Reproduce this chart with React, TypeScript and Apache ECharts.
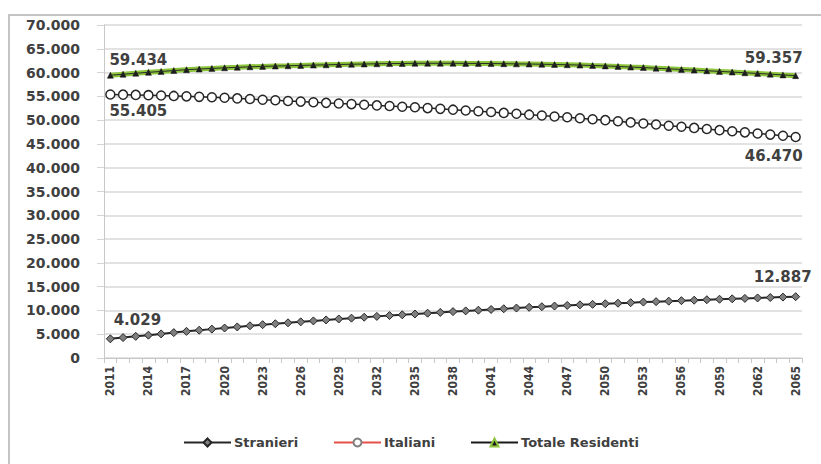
import React, { useEffect, useRef } from "react";
import * as echarts from "echarts";

const years: string[] = [];
for (let y = 2011; y <= 2065; y++) years.push(String(y));

const stranieri = [
  4029, 4290, 4550, 4800, 5070, 5340, 5600, 5840, 6070, 6300, 6530, 6770, 7000, 7200, 7400, 7600, 7800, 8000, 8200,
  8380, 8570, 8750, 8920, 9080, 9250, 9420, 9580, 9750, 9900, 10050, 10200, 10350, 10500, 10650, 10780, 10920, 11050,
  11170, 11280, 11400, 11520, 11630, 11750, 11850, 11950, 12050, 12150, 12250, 12350, 12440, 12530, 12620, 12710,
  12800, 12887,
];

const italiani = [
  55405, 55360, 55310, 55250, 55170, 55090, 55000, 54900, 54800, 54700, 54570, 54440, 54300, 54170, 54030, 53900,
  53770, 53630, 53500, 53370, 53230, 53100, 52970, 52830, 52700, 52530, 52370, 52200, 52030, 51870, 51700, 51520,
  51330, 51150, 50970, 50780, 50600, 50400, 50200, 50000, 49770, 49530, 49300, 49070, 48830, 48600, 48370, 48130,
  47900, 47670, 47430, 47200, 46960, 46710, 46470,
];

const totale = [
  59434, 59650, 59860, 60050, 60240, 60430, 60600, 60740, 60870, 61000, 61100, 61210, 61300, 61370, 61430, 61500,
  61570, 61630, 61700, 61750, 61800, 61850, 61890, 61910, 61950, 61950, 61950, 61950, 61930, 61920, 61900, 61870,
  61830, 61800, 61750, 61700, 61650, 61570, 61480, 61400, 61290, 61160, 61050, 60920, 60780, 60650, 60520, 60380,
  60250, 60110, 59960, 59820, 59670, 59510, 59357,
];

const legendNames = ["Stranieri", "Italiani", "Totale Residenti"];

const fmt = (v: number) => v.toString().replace(/\B(?=(\d{3})+(?!\d))/g, ".");

const labelText = {
  color: "#404040",
  fontWeight: "bold" as const,
  fontSize: 15,
  fontFamily: "DejaVu Sans",
};

function withEndLabels(
  arr: number[],
  first: { position: string; offset: number[] },
  last: { position: string; offset: number[] }
) {
  return arr.map((v, i) => {
    if (i === 0 || i === arr.length - 1) {
      const cfg = i === 0 ? first : last;
      return {
        value: v,
        label: {
          show: true,
          position: cfg.position,
          offset: cfg.offset,
          formatter: () => fmt(v),
          ...labelText,
        },
      };
    }
    return v;
  });
}

const legendBase = {
  top: 431,
  itemWidth: 47,
  itemHeight: 10,
  itemGap: 0,
  textStyle: { color: "#404040", fontWeight: "bold" as const, fontSize: 13, fontFamily: "DejaVu Sans", padding: [0, 0, 0, -2] },
};

export default function App() {
  const ref = useRef<HTMLDivElement>(null);
  useEffect(() => {
    if (!ref.current) return;
    const chart = echarts.init(ref.current, undefined, { renderer: "svg" });
    chart.setOption({
      animation: false,
      backgroundColor: "#ffffff",
      graphic: [
        {
          type: "rect",
          shape: { x: 9, y: 15, width: 900, height: 600 },
          style: { fill: "none", stroke: "#c4c4c4", lineWidth: 2 },
          silent: true,
          z: -10,
        },
      ],
      grid: { left: 104, right: 19, top: 25, bottom: 106, containLabel: false },
      legend: [
        { ...legendBase, left: 178, data: [{ name: legendNames[0] }] },
        {
          ...legendBase,
          left: 328,
          data: [{ name: legendNames[1], lineStyle: { color: "#e8504a" }, itemStyle: { borderColor: "#7f7f7f" } }],
        },
        {
          ...legendBase,
          left: 465,
          data: [{ name: legendNames[2], lineStyle: { color: "#1a1a1a" }, itemStyle: { borderColor: "#8cc43c" } }],
        },
      ],
      xAxis: {
        type: "category",
        data: years,
        boundaryGap: true,
        axisLine: { lineStyle: { color: "#c8c8c8", width: 1 } },
        axisTick: { show: true, interval: 0, length: 5, lineStyle: { color: "#c8c8c8" } },
        axisLabel: {
          interval: 2,
          rotate: 90,
          margin: 8,
          color: "#404040",
          fontWeight: "bold",
          fontSize: 12,
          fontFamily: "DejaVu Sans Condensed",
        },
        splitLine: { show: false },
      },
      yAxis: {
        type: "value",
        min: 0,
        max: 70000,
        interval: 5000,
        axisLine: { show: true, lineStyle: { color: "#c8c8c8", width: 1 } },
        axisTick: { show: true, length: 7, lineStyle: { color: "#d4d4d4" } },
        axisLabel: {
          margin: 24,
          color: "#404040",
          fontWeight: "bold",
          fontSize: 14,
          fontFamily: "DejaVu Sans",
          formatter: (v: number) => fmt(v),
        },
        splitLine: { show: true, lineStyle: { color: "#d9d9d9", width: 1.5 } },
      },
      series: [
        {
          name: legendNames[0],
          type: "line",
          data: withEndLabels(
            stranieri,
            { position: "top", offset: [27, -2] },
            { position: "top", offset: [-13, -3] }
          ),
          symbol: "diamond",
          symbolSize: 8,
          showAllSymbol: true,
          lineStyle: { color: "#262626", width: 2 },
          itemStyle: { color: "#7f7f7f", borderColor: "#262626", borderWidth: 1 },
          z: 3,
        },
        {
          name: legendNames[1],
          type: "line",
          data: withEndLabels(
            italiani,
            { position: "bottom", offset: [28, -1] },
            { position: "bottom", offset: [-22, 1] }
          ),
          symbol: "circle",
          symbolSize: 9,
          showAllSymbol: true,
          lineStyle: { color: "#2a2222", width: 1.5 },
          itemStyle: { color: "#ffffff", borderColor: "#262626", borderWidth: 1.5 },
          z: 3,
        },
        {
          name: legendNames[2],
          type: "line",
          data: withEndLabels(
            totale,
            { position: "top", offset: [28, 0] },
            { position: "top", offset: [-22, -2] }
          ),
          symbol: "triangle",
          symbolSize: 6,
          showAllSymbol: true,
          lineStyle: { color: "#8cc43c", width: 5 },
          itemStyle: { color: "#1a1a1a", borderColor: "#1a1a1a", borderWidth: 0.5 },
          z: 3,
        },
        {
          name: "",
          type: "line",
          data: totale,
          symbol: "none",
          silent: true,
          lineStyle: { color: "#2a2a2a", width: 1 },
          z: 4,
          tooltip: { show: false },
        },
      ],
    });
    return () => chart.dispose();
  }, []);
  return <div ref={ref} style={{ position: "fixed", left: 0, top: 0, width: 821, height: 464 }} />;
}
